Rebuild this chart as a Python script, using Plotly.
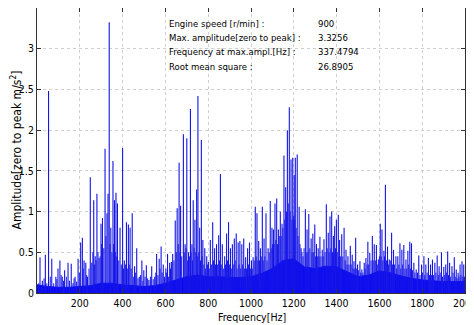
import plotly.graph_objects as go

# ---- spectrum data ----
spike_freq = [14, 25, 39, 54, 69, 88, 98, 107, 118, 129, 145, 160, 168, 178, 192, 204, 212, 220, 228, 236,
              249, 256, 265, 272, 280, 290, 299, 306, 318, 327, 332, 337.5, 345, 355, 362, 369, 376, 388, 400, 408,
              418, 427, 435, 445, 456, 466, 478, 490, 499, 511, 523, 536, 550, 559, 571, 580, 590, 602, 610, 620,
              628, 634, 646, 655, 664, 671,
              684, 692, 700, 708, 717, 724, 730, 738, 746, 752, 760, 768, 775, 784, 793, 801, 810, 821, 830, 839,
              849, 857, 866, 877, 886, 895, 904, 913, 922, 931, 940, 948, 957, 966, 975, 984, 993, 1002, 1010, 1020,
              1028, 1036, 1044, 1053, 1061, 1070, 1080, 1090, 1098, 1105, 1112, 1120, 1128, 1137, 1145, 1154, 1162,
              1170, 1179, 1187, 1195, 1202, 1207, 1216, 1225, 1234, 1243, 1254, 1262, 1270, 1281, 1289, 1298, 1306,
              1314, 1322,
              1333, 1341, 1352, 1361, 1369, 1377, 1385, 1391, 1399, 1408, 1414, 1424, 1435, 1444, 1453, 1464, 1473,
              1481, 1489, 1498, 1509, 1518, 1529, 1537, 1546, 1555, 1567, 1576, 1586, 1595, 1604, 1612, 1621, 1628,
              1638, 1646, 1657, 1666, 1677, 1686, 1696, 1705, 1714, 1724, 1733, 1742, 1750, 1761, 1772, 1784, 1797,
              1808, 1817, 1829, 1839, 1848, 1859, 1870, 1879, 1890, 1901, 1910, 1919, 1928, 1939, 1950, 1959, 1968,
              1977, 1986, 1994]
spike_amp = [0.44, 0.15, 0.47, 2.48, 0.42, 0.20, 0.30, 0.40, 0.20, 0.28, 0.37, 0.36, 0.12, 0.20, 0.42, 0.62, 0.68, 0.40, 0.37, 0.20,
             1.42, 0.37, 1.14, 0.45, 1.22, 0.43, 0.85, 0.92, 1.77, 0.98, 1.22, 3.3256, 0.80, 1.62, 1.14, 1.23, 1.10, 0.80, 1.78, 0.40,
             0.87, 0.84, 0.80, 0.98, 0.33, 0.55, 0.20, 0.40, 0.28, 0.34, 0.16, 0.33, 0.20, 0.48, 0.42, 0.57, 0.35, 0.30, 0.48, 0.37,
             0.38, 0.48, 0.89, 1.04, 1.60, 1.07,
             1.95, 0.60, 1.90, 0.50, 2.26, 0.60, 1.14, 0.90, 1.27, 2.42, 0.80, 1.88, 0.65, 0.55, 0.45, 0.38, 0.65, 0.87, 0.55, 0.60,
             0.71, 1.46, 0.60, 0.45, 0.73, 0.87, 0.55, 0.60, 0.67, 0.73, 0.62, 0.64, 0.60, 0.67, 0.44, 0.55, 0.62, 0.40, 0.44, 1.06,
             0.98, 0.64, 0.55, 1.06, 0.67, 0.98, 0.55, 1.13, 0.80, 0.78, 1.10, 1.16, 0.78, 1.00, 0.85, 1.69, 1.30,
             2.00, 2.28, 1.64, 1.66, 1.45, 1.66, 1.70, 1.06, 0.55, 0.45, 1.03, 0.78, 0.97, 0.67, 0.73, 0.84, 0.60,
             0.55, 0.69,
             0.53, 0.66, 1.09, 0.74, 0.94, 1.00, 0.70, 0.82, 0.90, 0.96, 0.65, 0.72, 0.80, 0.53, 0.45, 0.58, 0.47,
             0.39, 0.68, 0.35, 0.39, 0.29, 0.37, 0.43, 0.63, 0.49, 0.70, 0.60, 0.59, 0.41, 0.85, 0.78, 0.52, 1.33,
             0.57, 0.41, 0.74, 0.53, 0.45, 0.45, 0.61, 0.53, 0.59, 0.41, 0.52, 0.63, 0.61, 0.37, 0.29, 0.46, 0.35,
             0.45, 0.35, 0.43, 0.35, 0.41, 0.37, 0.46, 0.33, 0.50, 0.32, 0.35, 0.51, 0.37, 0.33, 0.44, 0.29, 0.25,
             0.35, 0.39, 0.35]

# smaller lines of the dense clutter between the main peaks
minor_freq = [8, 20, 33, 46, 62, 78, 93, 113, 124, 137, 152, 173, 185, 198, 216, 232, 243, 261, 268, 276,
              285, 295, 302, 312, 322, 341, 350, 358, 366, 373, 382, 394, 404, 413, 422, 431, 440, 450, 461, 472,
              484, 495, 505, 517, 530, 543, 555, 565, 575, 585, 596, 606, 615, 624, 640, 651, 660, 668, 676,
              688, 696, 704, 712, 720, 727, 734, 742, 749, 756, 764, 772, 780, 788, 797, 805, 815, 825, 834, 844,
              853, 861, 871, 881, 890, 899, 908, 917, 926, 935, 944, 952, 961, 970, 979, 988, 997, 1006, 1015,
              1024, 1032, 1040, 1048, 1057, 1065, 1075, 1085, 1094, 1101, 1108, 1116, 1124, 1132, 1141, 1149,
              1158, 1166, 1174, 1183, 1191, 1199, 1204, 1211, 1220, 1229, 1238, 1248, 1258, 1266, 1275, 1285,
              1293, 1302, 1310, 1318, 1327,
              1337, 1346, 1356, 1365, 1373, 1381, 1388, 1395, 1403, 1411, 1419, 1429, 1440, 1449, 1458, 1468,
              1477, 1485, 1494, 1503, 1513, 1523, 1533, 1542, 1550, 1561, 1571, 1581, 1590, 1600, 1608, 1616,
              1624, 1633, 1642, 1651, 1661, 1671, 1681, 1691, 1700, 1709, 1719, 1728, 1737, 1746, 1755, 1766,
              1778, 1790, 1802, 1812, 1823, 1834, 1844, 1853, 1864, 1875, 1884, 1895, 1905, 1914, 1923, 1933,
              1944, 1954, 1963, 1972, 1981, 1990, 1998]
minor_amp = [0.12, 0.10, 0.18, 0.12, 0.20, 0.12, 0.17, 0.22, 0.15, 0.20, 0.15, 0.18, 0.14, 0.25, 0.30, 0.22, 0.30, 0.50, 0.35, 0.40,
             0.50, 0.45, 0.60, 0.55, 0.70, 0.60, 0.50, 0.60, 0.50, 0.45, 0.40, 0.35, 0.30, 0.35, 0.30, 0.35, 0.30, 0.20, 0.25, 0.18,
             0.22, 0.15, 0.20, 0.18, 0.20, 0.17, 0.25, 0.22, 0.30, 0.25, 0.20, 0.25, 0.20, 0.30, 0.40, 0.50, 0.60, 0.50, 0.45,
             0.50, 0.55, 0.40, 0.45, 0.50, 0.40, 0.55, 0.50, 0.45, 0.50, 0.40, 0.45, 0.35, 0.30, 0.35, 0.30, 0.35, 0.40, 0.35, 0.35,
             0.40, 0.35, 0.30, 0.35, 0.40, 0.35, 0.30, 0.35, 0.40, 0.30, 0.35, 0.30, 0.35, 0.30, 0.30, 0.35, 0.30, 0.30, 0.40,
             0.45, 0.40, 0.40, 0.45, 0.40, 0.45, 0.40, 0.50, 0.55, 0.60, 0.60, 0.65, 0.60, 0.70, 0.70, 0.80,
             0.90, 1.00, 1.10, 1.00, 0.90, 0.95, 0.90, 0.80, 0.70, 0.60, 0.50, 0.55, 0.50, 0.50, 0.55, 0.50,
             0.50, 0.45, 0.45, 0.45, 0.45,
             0.45, 0.50, 0.55, 0.50, 0.55, 0.50, 0.50, 0.55, 0.50, 0.45, 0.45, 0.45, 0.40, 0.35, 0.35, 0.35,
             0.30, 0.30, 0.30, 0.28, 0.25, 0.25, 0.30, 0.35, 0.35, 0.40, 0.40, 0.40, 0.35, 0.45, 0.45, 0.40,
             0.45, 0.40, 0.35, 0.40, 0.35, 0.35, 0.30, 0.35, 0.30, 0.35, 0.30, 0.30, 0.35, 0.30, 0.28, 0.25,
             0.25, 0.22, 0.25, 0.22, 0.25, 0.22, 0.22, 0.22, 0.25, 0.22, 0.25, 0.20, 0.22, 0.25, 0.22, 0.20,
             0.25, 0.20, 0.18, 0.20, 0.22, 0.20, 0.20]

# dense noise floor (top of the solid band), read every 50 Hz
band_freq = [0, 50, 100, 150, 200, 250, 300, 350, 400, 450, 500, 550, 600, 650, 700, 750, 800, 850, 900, 950,
             1000, 1050, 1100, 1150, 1200, 1250, 1300, 1350, 1400, 1450, 1500, 1550, 1600, 1650, 1700, 1750,
             1800, 1850, 1900, 1950, 2000]
band_amp = [0.10, 0.08, 0.07, 0.07, 0.08, 0.09, 0.12, 0.12, 0.10, 0.09, 0.08, 0.09, 0.12, 0.16, 0.20, 0.22,
            0.20, 0.20, 0.19, 0.19, 0.20, 0.24, 0.30, 0.40, 0.42, 0.32, 0.30, 0.33, 0.32, 0.26, 0.20, 0.22,
            0.27, 0.25, 0.21, 0.18, 0.16, 0.15, 0.14, 0.14, 0.14]

x_ticks = [200, 400, 600, 800, 1000, 1200, 1400, 1600, 1800, 2000]
y_ticks = [0, 0.5, 1, 1.5, 2, 2.5, 3]
y_ticktext = ["0", "0.5", "1", "1.5", "2", "2.5", "3"]

info_labels = ["Engine speed [r/min] :", "Max. amplitude[zero to peak] :",
               "Frequency at max.ampl.[Hz] :", "Root mean square :"]
info_values = ["900", "3.3256", "337.4794", "26.8905"]

FONT = "DejaVu Sans Condensed, Liberation Sans Narrow, Arial Narrow, Liberation Sans, Arial, sans-serif"
BLUE = "rgb(0,0,255)"


def sticks(freqs, amps):
    xs, ys = [], []
    for f, a in zip(freqs, amps):
        xs += [f, f, None]
        ys += [0, a, None]
    return xs, ys


fig = go.Figure()
fig.add_trace(go.Scatter(x=band_freq, y=band_amp, mode="lines", fill="tozeroy",
                         line=dict(color=BLUE, width=1), fillcolor=BLUE, hoverinfo="skip"))
mx, my = sticks(minor_freq, minor_amp)
fig.add_trace(go.Scatter(x=mx, y=my, mode="lines",
                         line=dict(color="rgb(25,25,235)", width=1), hoverinfo="skip"))
sx, sy = sticks(spike_freq, spike_amp)
fig.add_trace(go.Scatter(x=sx, y=sy, mode="lines",
                         line=dict(color="rgb(20,20,230)", width=1.1), hoverinfo="skip"))

for i, (lab, val) in enumerate(zip(info_labels, info_values)):
    yy = 0.947 - i * 0.0505
    fig.add_annotation(x=0.304, y=yy, xref="paper", yref="paper", text=lab, showarrow=False,
                       xanchor="left", yanchor="middle", font=dict(family=FONT, size=9.5, color="black"))
    fig.add_annotation(x=0.652, y=yy, xref="paper", yref="paper", text=val, showarrow=False,
                       xanchor="left", yanchor="middle", font=dict(family=FONT, size=9.5, color="black"))

# axis titles
fig.add_annotation(x=0.502, y=-0.084, xref="paper", yref="paper", text="Frequency[Hz]", showarrow=False,
                   xanchor="center", yanchor="middle", font=dict(family=FONT, size=10.5, color="black"))
fig.add_annotation(x=-0.0514, y=0.50, xref="paper", yref="paper", text="Amplitude[zero to peak m/s<sup>2</sup>]",
                   showarrow=False, textangle=-90, xanchor="center", yanchor="middle",
                   font=dict(family=FONT, size=12, color="black"))

axis_common = dict(showline=True, linecolor="#333333", linewidth=1, mirror="ticks",
                   ticks="inside", ticklen=4, tickcolor="#333333",
                   showgrid=True, gridcolor="#cfcfcf", griddash="dot", gridwidth=1,
                   zeroline=False, automargin=False,
                   tickfont=dict(family=FONT, size=10.5, color="black"))

# the page body adds an 8 px offset, so margins are shifted to keep the plot box in place
fig.update_layout(
    width=474, height=317,
    margin=dict(l=29, r=17, t=0, b=32),
    paper_bgcolor="white", plot_bgcolor="white",
    showlegend=False,
    font=dict(family=FONT, size=11, color="black"),
    xaxis=dict(range=[0, 2000], tickvals=x_ticks, ticklabeloverflow="allow", **axis_common),
    yaxis=dict(range=[0, 3.5], tickvals=y_ticks, ticktext=y_ticktext, **axis_common),
)

fig.write_html("out.html")
